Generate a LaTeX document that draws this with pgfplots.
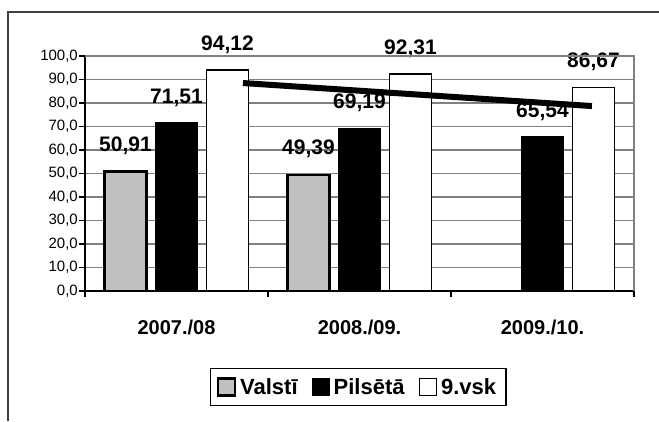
\documentclass[border=0pt]{standalone}
\usepackage{pgfplots}
\pgfplotsset{compat=1.18}
\usepackage{fontspec}
\setmainfont{Liberation Sans}
\definecolor{barGray}{HTML}{C0C0C0}
\definecolor{gridGray}{HTML}{808080}
\begin{document}
\begin{tikzpicture}[x=1pt,y=1pt]
\useasboundingbox (0,0) rectangle (659,421);
\draw[line width=1.2pt, black!75] (8,0) -- (8,409) -- (659,409);
\begin{axis}[
  at={(85pt,130pt)}, anchor=south west,
  scale only axis, width=549pt, height=235pt,
  ybar, bar width=42pt,
  xmin=-0.5, xmax=2.5, ymin=0, ymax=100,
  enlarge x limits=false,
  axis x line*=bottom, axis y line*=left,
  axis line style={black, line width=1.8pt},
  xtick={0,1,2},
  xticklabels={2007./08, 2008./09., 2009./10.},
  xtick style={draw=none},
  xticklabel style={font=\fontsize{20}{24}\selectfont\bfseries, inner sep=0pt, yshift=-23pt},
  extra x ticks={-0.5,0.5,1.5,2.5},
  extra x tick labels={},
  extra x tick style={major tick length=6pt, tick align=outside, grid=none, xtick style={draw=black, line width=1.5pt}},
  ytick={0,10,...,100},
  tick align=outside,
  major tick length=6pt,
  ytick style={black, line width=1.5pt},
  yticklabel style={font=\fontsize{15}{18}\selectfont, inner sep=1pt},
  /pgf/number format/assume math mode=true,
  yticklabel={\pgfmathprintnumber[fixed, fixed zerofill, precision=1, use comma]{\tick}},
  ymajorgrids,
  grid style={gridGray, line width=1.3pt},
  legend columns=3,
  legend style={at={(axis description cs:0.498,-0.4085)}, anchor=center,
    draw=black, line width=1.5pt, font=\fontsize{22}{26}\selectfont\bfseries,
    inner xsep=6pt, inner ysep=8pt,
    nodes={inner xsep=4pt},
    /tikz/every even column/.append style={column sep=10pt}},
  legend cell align=left,
  sqleg/.style={legend image code/.code={\draw[##1] (0pt,-8.5pt) rectangle (17pt,8.5pt);}},
  after end axis/.code={\draw[gridGray, line width=1.3pt] (rel axis cs:0,1) -- (rel axis cs:1,1) -- (rel axis cs:1,0);},
  lbl/.style={nodes near coords={\pgfmathprintnumber[fixed, fixed zerofill, precision=2, use comma]{\pgfplotspointmeta}},
    every node near coord/.append style={font=\fontsize{21}{25}\selectfont\bfseries, anchor=south, inner sep=0pt, text depth=0pt, yshift=19pt, /pgf/number format/assume math mode=true}},
]
\addplot[fill=barGray, draw=black, line width=2.5pt, bar shift=-51pt, lbl, sqleg] coordinates {(0,50.91) (1,49.39)};
\addplot[fill=black, draw=black, line width=1pt, bar shift=0pt, lbl, sqleg] coordinates {(0,71.51) (1,69.19) (2,65.54)};
\addplot[fill=white, draw=black, line width=1.5pt, bar shift=51pt, lbl, sqleg] coordinates {(0,94.12) (1,92.31) (2,86.67)};
\legend{Valstī, Pilsētā, 9.vsk}
\addplot[sharp plot, black, line width=6pt, no markers, forget plot] coordinates {(0.363,88.5) (2.27,78.7)};
\end{axis}
\end{tikzpicture}
\end{document}
